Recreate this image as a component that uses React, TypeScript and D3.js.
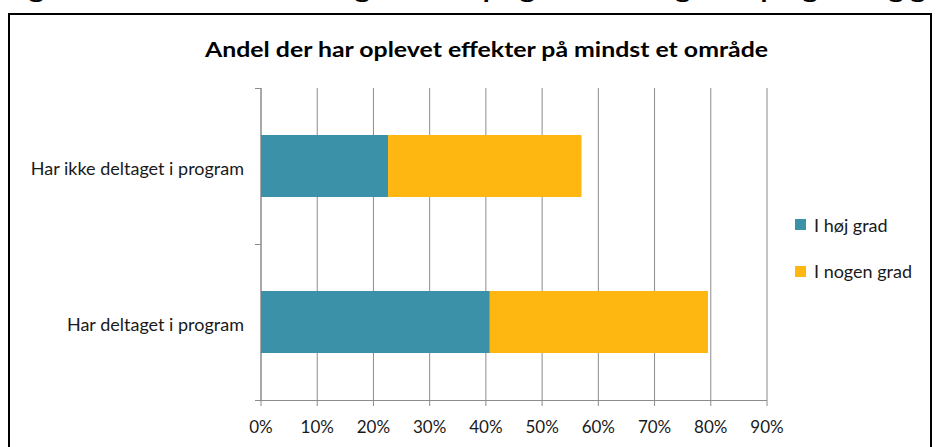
import React from "react";
import * as d3 from "d3";

const categories = ["Har ikke deltaget i program", "Har deltaget i program"];
const seriesNames = ["I høj grad", "I nogen grad"];
const hojGrad = [22.6, 40.7];
const nogenGrad = [34.4, 38.8];
const xTicks = [0, 10, 20, 30, 40, 50, 60, 70, 80, 90];
const colors = ["#3A91A8", "#FDB710"];
const title = "Andel der har oplevet effekter på mindst et område";
const cutTitle = "Figur 3: Andel der har lært og effekter på grad af deltagelse i program og grad";

export default function App() {
  const W = 941, H = 447;
  const font = "Lato, 'Open Sans', sans-serif";
  const x = d3.scaleLinear().domain([0, 90]).range([261, 767]);
  const y = d3.scaleBand<string>().domain(categories).range([88, 400]).paddingInner(0).paddingOuter(0);
  const barH = 62;
  const rows = categories.map((c, i) => ({ c, vals: [hojGrad[i], nogenGrad[i]] }));
  const stacked = rows.map(r => {
    let acc = 0;
    return r.vals.map(v => { const s = acc; acc += v; return [s, acc]; });
  });
  return (
    <svg width={W} height={H} style={{ position: "absolute", left: 0, top: 0, display: "block" }}>
      <rect x={0} y={0} width={W} height={H} fill="#fff" />
      <text x={6} y={-2.5} fontFamily={font} fontWeight="bold" fontSize={20} textLength={960} lengthAdjust="spacingAndGlyphs" fill="#000">{cutTitle}</text>
      <rect x={9} y={14} width={922} height={445} fill="#fff" stroke="#000" strokeWidth={2} />
      <text x={205} y={57} fontFamily={font} fontWeight="bold" fontSize={20} textLength={563} lengthAdjust="spacingAndGlyphs" fill="#000">{title}</text>
      {xTicks.map(t => (
        <line key={"g" + t} x1={x(t)} x2={x(t)} y1={88} y2={406} stroke="#8c8c8c" strokeWidth={1} />
      ))}
      <line x1={256} x2={767} y1={400.5} y2={400.5} stroke="#8c8c8c" strokeWidth={1} />
      <line x1={261} x2={261} y1={88} y2={400} stroke="#8c8c8c" strokeWidth={1} />
      {[88, 244, 400].map((v, i) => (
        <line key={"yt" + i} x1={255} x2={261} y1={v + 0.5} y2={v + 0.5} stroke="#8c8c8c" strokeWidth={1} />
      ))}
      {rows.map((r, i) => {
        const cy = (y(r.c) as number) + y.bandwidth() / 2;
        return (
          <g key={r.c}>
            {stacked[i].map((seg, j) => (
              <rect key={j} x={x(seg[0])} y={cy - barH / 2} width={x(seg[1]) - x(seg[0])} height={barH} fill={colors[j]} />
            ))}
            <text x={244} y={cy + 9} textAnchor="end" fontFamily={font} fontSize={18} fill="#1a1a1a">{r.c}</text>
          </g>
        );
      })}
      {xTicks.map(t => (
        <text key={"t" + t} x={x(t)} y={433} textAnchor="middle" fontFamily={font} fontSize={17} fill="#1a1a1a">{t + "%"}</text>
      ))}
      {seriesNames.map((s, i) => (
        <g key={s}>
          <rect x={795} y={219 + i * 47} width={11} height={11} fill={colors[i]} />
          <text x={814} y={232 + i * 46} fontFamily={font} fontSize={18} fill="#1a1a1a">{s}</text>
        </g>
      ))}
    </svg>
  );
}
